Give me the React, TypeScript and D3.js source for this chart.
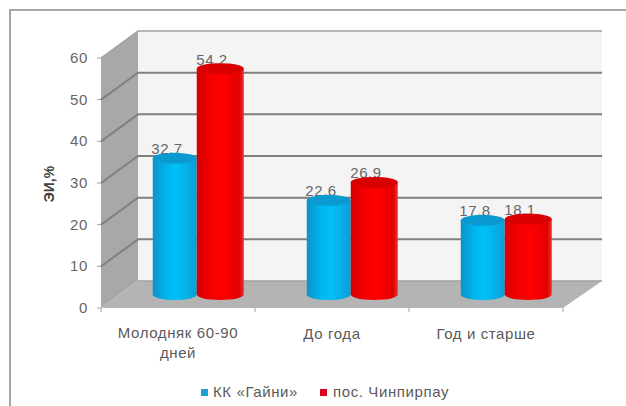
import React from "react";
import * as d3 from "d3";

const categories = [["Молодняк 60-90", "дней"], ["До года"], ["Год и старше"]];
const seriesNames = ["КК «Гайни»", "пос. Чинпирпау"];
const gainiValues = [32.7, 22.6, 17.8];
const chinpirpauValues = [54.2, 26.9, 18.1];
const yTicks = [0, 10, 20, 30, 40, 50, 60];
const yTitle = "ЭИ,%";

const W = 626;
const H = 406;
const DX = 37;
const DY = -27;
const FONT = "'Liberation Sans', Arial, sans-serif";
const LABEL_SIZE = 15;
const LABEL_SPACING = 0.6;

const y = d3.scaleLinear().domain([0, 60]).range([308, 58]);
const x0 = d3.scaleBand<number>().domain([0, 1, 2]).range([101, 563]);
const x1 = d3.scaleBand<number>().domain([0, 1]).range([0, 89]);

const linePath = d3.line();

const seriesStyle = [
  { grad: "cylBlue", top: "#0a9ad0", swatch: "#1aa0d4", values: gainiValues },
  { grad: "cylRed", top: "#d80000", swatch: "#d4001e", values: chinpirpauValues },
];

// One cylinder: body with a rounded base, and a darker cap
function Cylinder({ cx, rx, value, grad, top }: { cx: number; rx: number; value: number; grad: string; top: string }) {
  const ry = 5.5;
  const base = y(0) + DY / 2;
  const cap = y(value) + DY / 2;
  const d = `M${cx - rx},${cap} L${cx - rx},${base} A${rx},${ry} 0 0 0 ${cx + rx},${base} L${cx + rx},${cap} Z`;
  return (
    <g>
      <path d={d} fill={`url(#${grad})`} />
      <ellipse cx={cx} cy={cap} rx={rx} ry={ry} fill={top} />
    </g>
  );
}

export default function App() {
  const wall: [number, number][] = [
    [101, y(0)],
    [101 + DX, y(0) + DY],
    [101 + DX, y(60) + DY],
    [101, y(60)],
  ];
  const floor: [number, number][] = [
    [101, y(0)],
    [101 + DX, y(0) + DY],
    [563 + DX + 2, y(0) + DY],
    [563, y(0)],
  ];
  const left = 101 + DX;
  const right = 602;

  return (
    <svg width={W} height={H} style={{ position: "absolute", left: 0, top: 0, background: "#fff" }} fontFamily={FONT}>
      <defs>
        <linearGradient id="cylBlue" x1="0" x2="1" y1="0" y2="0">
          <stop offset="0" stopColor="#0c93c6" />
          <stop offset="0.3" stopColor="#00b4ee" />
          <stop offset="0.55" stopColor="#00c0f8" />
          <stop offset="1" stopColor="#0a9fd6" />
        </linearGradient>
        <linearGradient id="cylRed" x1="0" x2="1" y1="0" y2="0">
          <stop offset="0" stopColor="#d40000" />
          <stop offset="0.3" stopColor="#f40000" />
          <stop offset="0.55" stopColor="#ff0000" />
          <stop offset="0.9" stopColor="#e20000" />
          <stop offset="1" stopColor="#e83030" />
        </linearGradient>
      </defs>

      {/* outer frame */}
      <path d={linePath([[10, H], [10, 10], [W, 10]]) ?? ""} fill="none" stroke="#a6a6a6" strokeWidth={2} />

      {/* plot walls */}
      <rect x={left} y={y(60) + DY} width={right - left} height={y(0) - y(60)} fill="#f4f4f4" />
      <path d={(linePath(wall) ?? "") + "Z"} fill="#a8a8a8" />
      <path d={(linePath(floor) ?? "") + "Z"} fill="#b4b4b4" />

      {/* gridlines across the side and back walls */}
      {yTicks.map((t) => (
        <g key={t}>
          {t > 0 && (
            <path
              d={linePath([[right, y(t) + DY], [left, y(t) + DY], [101, y(t)]]) ?? ""}
              fill="none"
              stroke={t === 60 ? "#a0a0a0" : "#808080"}
              strokeWidth={t === 60 ? 1.5 : 2}
            />
          )}
          <line x1={97} x2={101} y1={y(t)} y2={y(t)} stroke="#a0a0a0" />
          <text x={88} y={y(t) + 5} textAnchor="end" fontSize={LABEL_SIZE} letterSpacing={LABEL_SPACING} fill="#666">
            {t}
          </text>
        </g>
      ))}
      <path d={linePath([[left, y(0) + DY], [right, y(0) + DY]]) ?? ""} stroke="#a0a0a0" strokeWidth={1.5} fill="none" />

      {/* category ticks on the front edge */}
      {[...x0.domain().map((c) => x0(c) as number), 563].map((px) => (
        <line key={px} x1={px} x2={px} y1={y(0)} y2={y(0) + 4} stroke="#a0a0a0" />
      ))}

      {/* value labels sit behind the cylinder caps */}
      {categories.map((_, c) =>
        seriesStyle.map((s, i) => (
          <text
            key={`${c}-${i}`}
            x={(x0(c) as number) + 66 + i * 45}
            y={y(s.values[c]) + DY / 2 - 4}
            textAnchor="middle"
            fontSize={LABEL_SIZE}
            letterSpacing={LABEL_SPACING}
            fill="#666"
          >
            {s.values[c].toFixed(1)}
          </text>
        ))
      )}

      {/* cylinders */}
      {categories.map((_, c) =>
        seriesStyle.map((s, i) => (
          <Cylinder
            key={`${c}-${i}`}
            cx={(x0(c) as number) + 52 + (x1(i) as number) + x1.bandwidth() / 2 - (i === 0 ? 0.5 : -0.5)}
            rx={i === 0 ? 22 : 23.5}
            value={s.values[c]}
            grad={s.grad}
            top={s.top}
          />
        ))
      )}

      {/* category labels */}
      {categories.map((lines, c) => (
        <text
          key={c}
          x={(x0(c) as number) + x0.bandwidth() / 2}
          y={lines.length > 1 ? 338 : 339}
          textAnchor="middle"
          fontSize={LABEL_SIZE}
          letterSpacing={LABEL_SPACING}
          fill="#5a5a5a"
        >
          {lines.map((l, j) => (
            <tspan key={j} x={(x0(c) as number) + x0.bandwidth() / 2} dy={j === 0 ? 0 : 20}>
              {l}
            </tspan>
          ))}
        </text>
      ))}

      {/* axis title */}
      <text
        transform="translate(54,184) rotate(-90)"
        textAnchor="middle"
        fontSize={14}
        fontWeight="bold"
        fill="#404040"
      >
        {yTitle}
      </text>

      {/* legend */}
      {seriesNames.map((name, i) => {
        const mx = [201, 320][i];
        return (
          <g key={name}>
            <rect x={mx} y={389} width={7} height={7} fill={seriesStyle[i].swatch} />
            <text x={mx + [12, 13][i]} y={397} fontSize={LABEL_SIZE} letterSpacing={LABEL_SPACING} fill="#5a5a5a">
              {name}
            </text>
          </g>
        );
      })}
    </svg>
  );
}
